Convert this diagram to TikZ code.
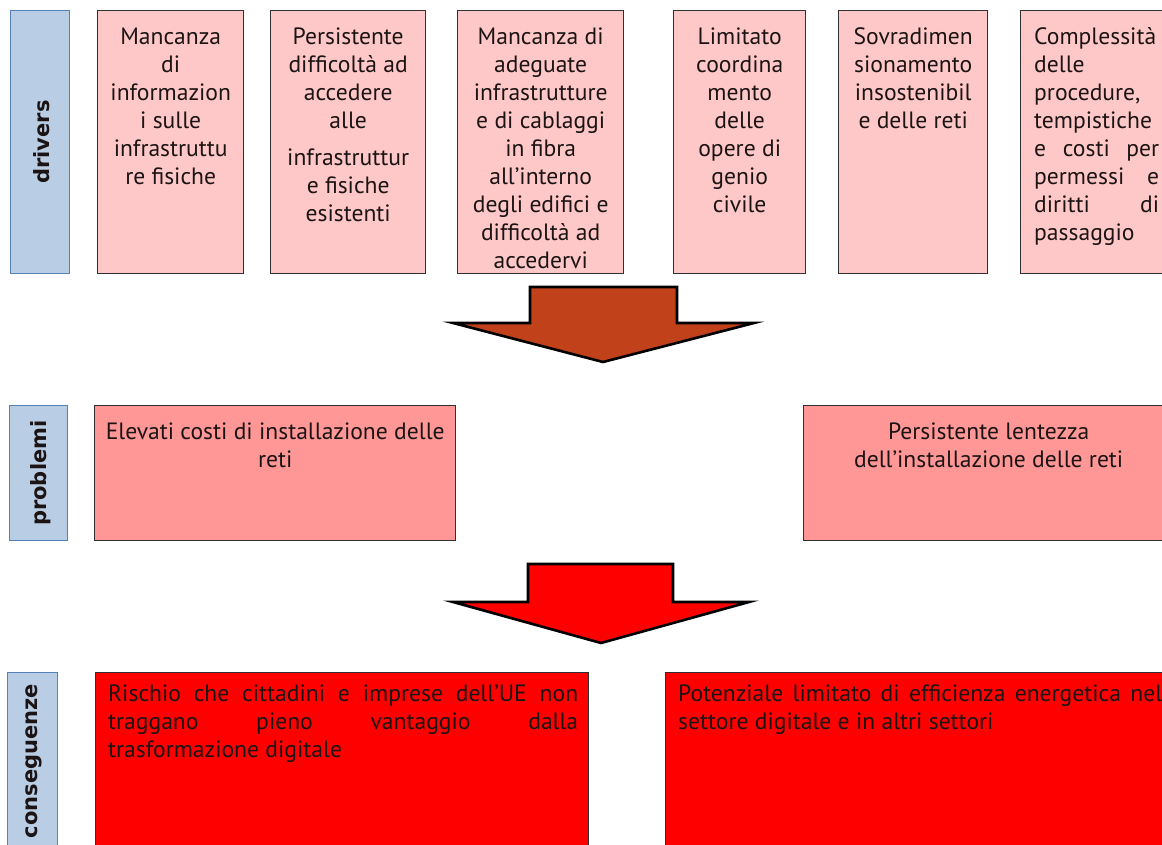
\documentclass[tikz,border=0pt]{standalone}
\usepackage{fontspec}
\setmainfont{PT Sans}
\newfontfamily\labfont{DejaVu Sans}
\definecolor{labfill}{HTML}{B9CDE5}
\definecolor{labborder}{HTML}{5580B8}
\definecolor{drvfill}{HTML}{FFC8C8}
\definecolor{prbfill}{HTML}{FF9797}
\definecolor{cnsfill}{HTML}{FF0000}
\definecolor{arrbrown}{HTML}{C0411A}
\definecolor{boxborder}{HTML}{303030}
\definecolor{txtcol}{HTML}{1C1414}
\newcommand{\dsize}{\fontsize{23.6}{28}\selectfont}
\begin{document}
\begin{tikzpicture}[x=1pt,y=-1pt,
  lab/.style={draw=labborder, fill=labfill, line width=1.3pt, inner sep=0pt, anchor=north west},
  labtxt/.style={rotate=90, font=\labfont\bfseries\fontsize{21}{24}\selectfont, text=txtcol},
  drvbox/.style={draw=boxborder, fill=drvfill, line width=1.4pt, inner sep=0pt, anchor=north west, minimum height=263pt},
  prbbox/.style={draw=boxborder, fill=prbfill, line width=1.4pt, inner sep=0pt, anchor=north west, minimum height=135pt},
  cnsbox/.style={draw=boxborder, fill=cnsfill, line width=1.4pt, inner sep=0pt, anchor=north west, minimum height=200pt},
  ctxt/.style={font=\dsize, text=txtcol, inner sep=0pt, align=center, anchor=north},
  ltxt/.style={font=\dsize, text=txtcol, inner sep=0pt, align=left, anchor=north west},
  blockarrow/.style={draw=black, line width=2.6pt, line join=miter}
]
\useasboundingbox (0,0) rectangle (1162,845);
\clip (0,0) rectangle (1162,845);

% row labels
\node[lab, minimum width=59pt, minimum height=263pt] (drv) at (10,10) {};
\node[labtxt] at ([xshift=2pt]drv.center) {drivers};
\node[lab, minimum width=58pt, minimum height=135pt] (prb) at (9,405) {};
\node[labtxt] at ([xshift=2pt]prb.center) {problemi};
\node[lab, minimum width=50pt, minimum height=200pt] (cns) at (7,672) {};
\node[labtxt] at (34,761) {conseguenze};

% drivers
\node[drvbox, minimum width=146pt] (d1) at (97,10) {};
\node[ctxt] at ([yshift=-15pt]d1.north) {\strut Mancanza\\di\\informazion\\i sulle\\infrastruttu\\re fisiche};
\node[drvbox, minimum width=155pt] (d2) at (270,10) {};
\node[ctxt] at ([yshift=-15pt]d2.north) {\strut Persistente\\difficoltà ad\\accedere\\alle\\[9pt]infrastruttur\\e fisiche\\esistenti};
\node[drvbox, minimum width=166pt] (d3) at (457,10) {};
\node[ctxt] at ([yshift=-15pt]d3.north) {\strut Mancanza di\\adeguate\\infrastrutture\\e di cablaggi\\in fibra\\all’interno\\degli edifici e\\difficoltà ad\\accedervi};
\node[drvbox, minimum width=132pt] (d4) at (673,10) {};
\node[ctxt] at ([yshift=-15pt]d4.north) {\strut Limitato\\coordina\\mento\\delle\\opere di\\genio\\civile};
\node[drvbox, minimum width=149pt] (d5) at (838,10) {};
\node[ctxt] at ([yshift=-15pt]d5.north) {\strut Sovradimen\\sionamento\\insostenibil\\e delle reti};
\node[drvbox, minimum width=160pt] (d6) at (1020,10) {};
\node[ltxt] at (1034,25) {\strut Complessità\\delle\\procedure,\\tempistiche\\\makebox[125pt][s]{e costi per}\\\makebox[125pt][s]{permessi e}\\\makebox[125pt][s]{diritti di}\\passaggio};

% arrow 1
\draw[blockarrow, fill=arrbrown] (530,287) -- (677,287) -- (677,323) -- (754,323) -- (603,362) -- (453,323) -- (530,323) -- cycle;

% problems
\node[prbbox, minimum width=361pt] (p1) at (94,405) {};
\node[ctxt] at ([yshift=-15pt]p1.north) {\strut Elevati costi di installazione delle\\reti};
\node[prbbox, minimum width=370pt] (p2) at (803,405) {};
\node[ctxt] at ([yshift=-15pt]p2.north) {\strut Persistente lentezza\\dell’installazione delle reti};

% arrow 2
\draw[blockarrow, fill=cnsfill] (528,564) -- (673,564) -- (673,602) -- (749,602) -- (601,643) -- (453,602) -- (528,602) -- cycle;

% consequences
\node[cnsbox, minimum width=493pt] (c1) at (95,672) {};
\node[ltxt] at (108,682) {\strut\makebox[470pt][s]{Rischio che cittadini e imprese dell’UE non}\\\makebox[470pt][s]{traggano pieno vantaggio dalla}\\trasformazione digitale};
\node[cnsbox, minimum width=520pt] (c2) at (665,672) {};
\node[ltxt] at (678,682) {\strut\makebox[484pt][s]{Potenziale limitato di efficienza energetica nel}\\settore digitale e in altri settori};
\end{tikzpicture}
\end{document}
